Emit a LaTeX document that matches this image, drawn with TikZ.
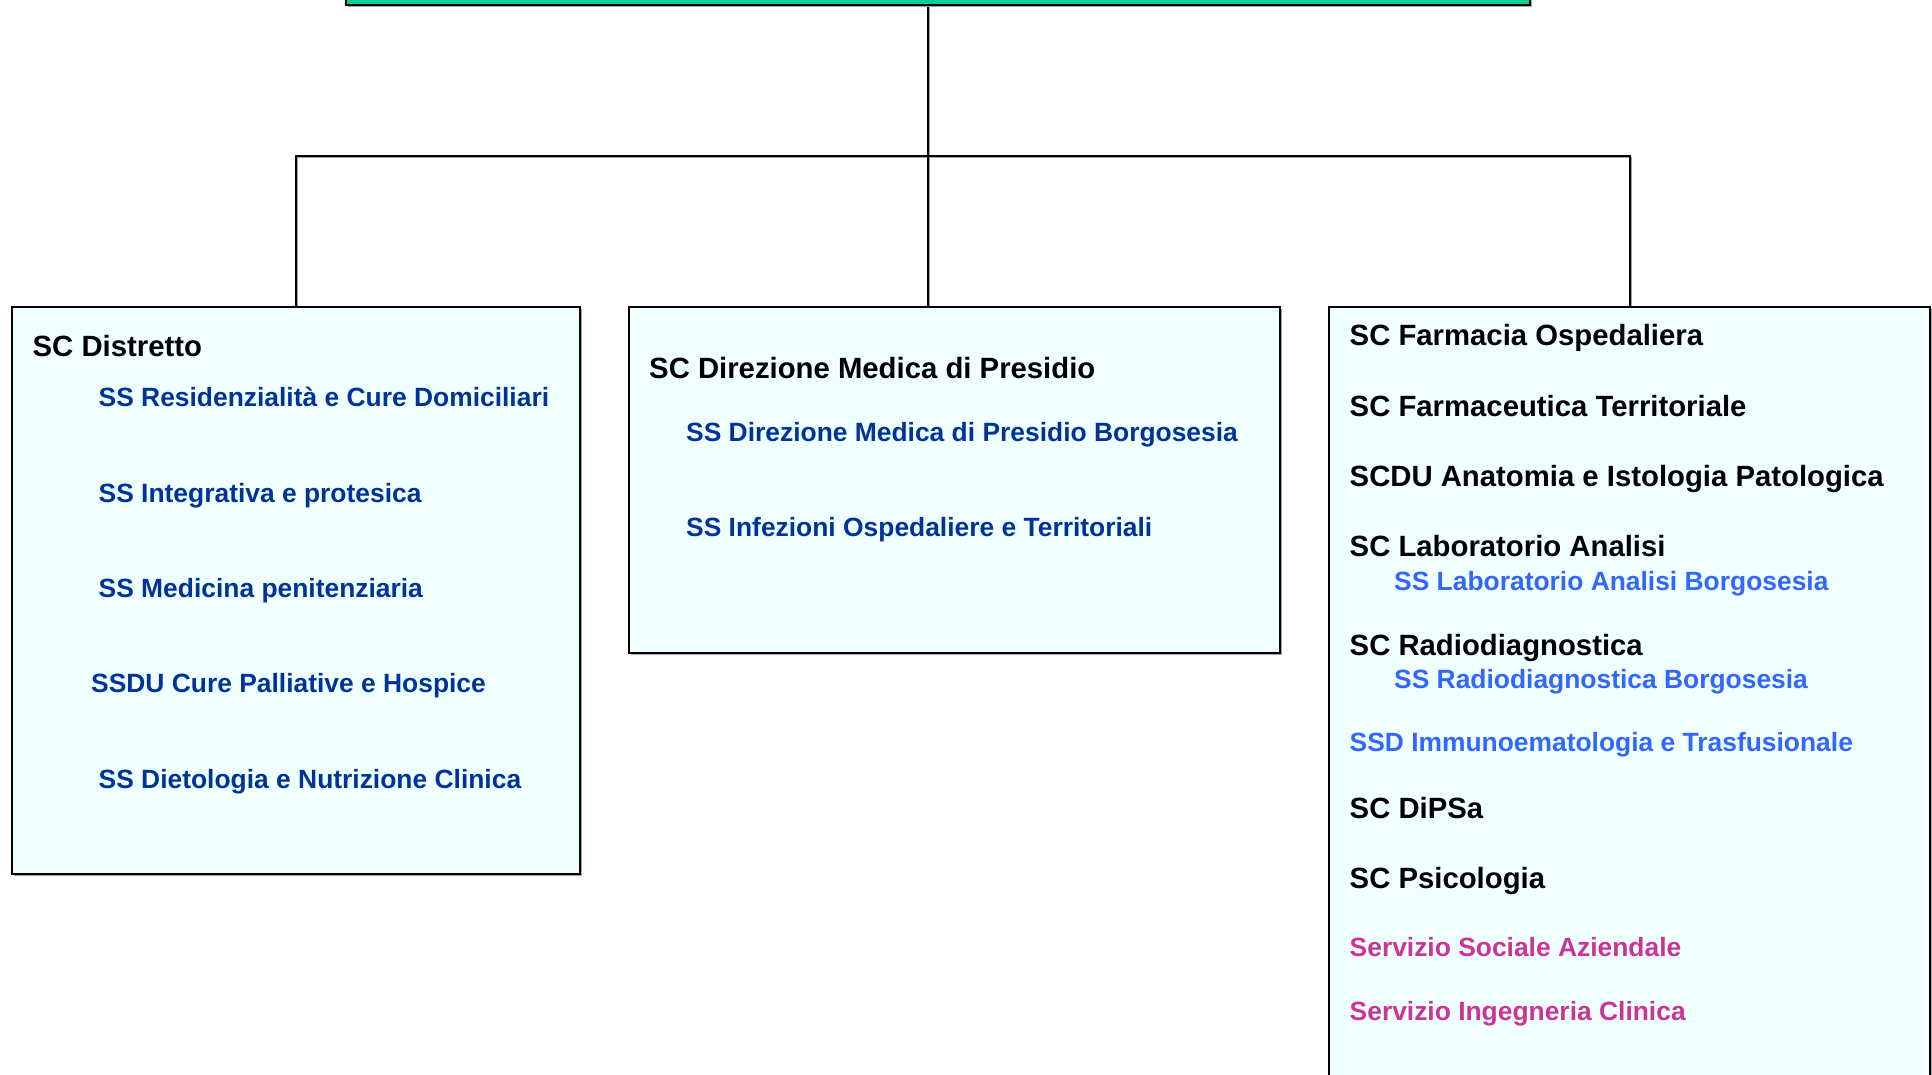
\documentclass[tikz,border=0pt]{standalone}
\usepackage{fontspec}
\setmainfont{Liberation Sans}
\usetikzlibrary{shadows,backgrounds}
\definecolor{barfill}{RGB}{16,204,153}
\definecolor{boxfill}{RGB}{240,255,255}
\definecolor{subblue}{RGB}{0,51,153}
\definecolor{lightblue}{RGB}{51,102,255}
\definecolor{pinktxt}{RGB}{204,51,153}
\definecolor{shade}{RGB}{165,165,165}
\tikzset{
  unitbox/.style={draw=black, line width=2.2pt, fill=boxfill, inner sep=0pt, anchor=north west,
    drop shadow={shadow xshift=2pt, shadow yshift=-2pt, fill=shade, opacity=1}},
  topbar/.style={draw=black, line width=2pt, fill=barfill, inner sep=0pt, anchor=south west,
    drop shadow={shadow xshift=2pt, shadow yshift=-2pt, fill=shade, opacity=1}},
  conn/.style={draw=black, line width=2pt},
  connshadow/.style={draw=shade, line width=1.6pt},
  head/.style={anchor=base west, inner sep=0pt, font=\fontsize{29.3}{35}\selectfont\bfseries, text=black},
  sub/.style={anchor=base west, inner sep=0pt, font=\fontsize{26.4}{32}\selectfont\bfseries, text=subblue},
  subl/.style={sub, text=lightblue},
  subp/.style={sub, text=pinktxt},
}
\begin{document}
\begin{tikzpicture}[x=1pt,y=1pt]
\useasboundingbox (0,0) rectangle (1932,-1075);
\clip (0,0) rectangle (1932,-1075);
% top bar (only lower edge visible)
\node[topbar, minimum width=1184, minimum height=40] (top) at (345,-6) {};
% unit boxes
\node[unitbox, minimum width=568, minimum height=567] (left) at (11,-306) {};
\node[unitbox, minimum width=651, minimum height=346] (mid) at (628,-306) {};
\node[unitbox, minimum width=601, minimum height=820] (right) at (1328,-306) {};
\coordinate (hub) at (928,-156);
% connectors
\begin{scope}[on background layer]
  \draw[connshadow, transform canvas={xshift=1.5pt,yshift=-1.5pt}] (left.north) |- (hub) -| (right.north);
  \draw[connshadow, transform canvas={xshift=1.5pt,yshift=-1.5pt}] (top.south -| hub) -- (hub) -- (hub |- mid.north);
  \draw[conn] (left.north) |- (hub) -| (right.north);
  \draw[conn] (top.south -| hub) -- (hub) -- (hub |- mid.north);
\end{scope}
% left box texts
\node[head] (d0) at (32.5,-356.5) {SC Distretto};
\node[sub] (d1) at (98.5,-406) {SS Residenzialità e Cure Domiciliari};
\node[sub] (d2) at (98.5,-502) {SS Integrativa e protesica};
\node[sub] (d3) at (98.5,-597.5) {SS Medicina penitenziaria};
\node[sub] (d4) at (91,-692.5) {SSDU Cure Palliative e Hospice};
\node[sub] (d5) at (98.5,-788) {SS Dietologia e Nutrizione Clinica};
% middle box texts
\node[head] (m0) at (649,-378) {SC Direzione Medica di Presidio};
\node[sub] (m1) at (686,-441.7) {SS Direzione Medica di Presidio Borgosesia};
\node[sub] (m2) at (686,-536.7) {SS Infezioni Ospedaliere e Territoriali};
% right box texts
\node[head] (r1) at (1349.5,-345.7) {SC Farmacia Ospedaliera};
\node[head] (r2) at (1349.5,-416) {SC Farmaceutica Territoriale};
\node[head] (r3) at (1349.5,-486.7) {SCDU Anatomia e Istologia Patologica};
\node[head] (r4) at (1349.5,-556.7) {SC Laboratorio Analisi};
\node[subl] (r4a) at (1394,-590) {SS Laboratorio Analisi Borgosesia};
\node[head] (r5) at (1349.5,-655) {SC Radiodiagnostica};
\node[subl] (r5a) at (1394,-688.3) {SS Radiodiagnostica Borgosesia};
\node[subl] (r6) at (1349.5,-751.7) {SSD Immunoematologia e Trasfusionale};
\node[head] (r7) at (1349.5,-818.3) {SC DiPSa};
\node[head] (r8) at (1349.5,-888.3) {SC Psicologia};
\node[subp] (r9) at (1349.5,-956) {Servizio Sociale Aziendale};
\node[subp] (r10) at (1349.5,-1020) {Servizio Ingegneria Clinica};
\end{tikzpicture}
\end{document}
